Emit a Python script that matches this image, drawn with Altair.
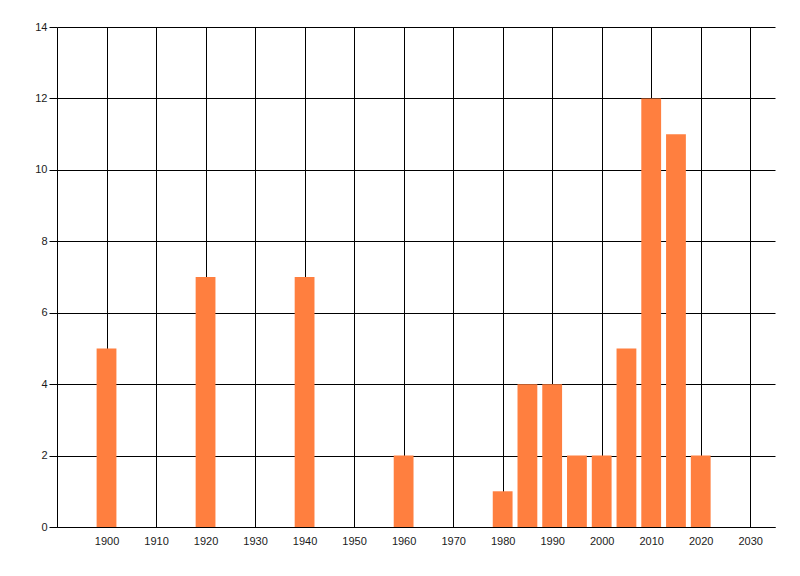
import altair as alt
import pandas as pd

years = [1900, 1920, 1940, 1960, 1980, 1985, 1990, 1995, 2000, 2005, 2010, 2015, 2020]
counts = [5, 7, 7, 2, 1, 4, 4, 2, 2, 5, 12, 11, 2]
x_ticks = list(range(1900, 2031, 10))
y_ticks = list(range(0, 15, 2))

df = pd.DataFrame({"year": years, "count": counts})

chart = (
    alt.Chart(df)
    .transform_calculate(x0="datum.year - 2", x1="datum.year + 2")
    .mark_bar(color="#FF7F3F")
    .encode(
        x=alt.X(
            "x0:Q",
            scale=alt.Scale(domain=[1890, 2035], nice=False, zero=False),
            axis=alt.Axis(
                values=x_ticks,
                format="d",
                title=None,
                ticks=False,
                labelPadding=8,
                grid=True,
                gridColor="#000000",
                gridOpacity=1,
                gridWidth=1,
                domainColor="#000000",
                domainWidth=1,
                labelColor="#1a1a1a",
                labelFont="Liberation Sans",
                labelFontSize=11,
            ),
        ),
        x2="x1:Q",
        y=alt.Y(
            "count:Q",
            scale=alt.Scale(domain=[0, 14], nice=False),
            axis=alt.Axis(
                values=y_ticks,
                title=None,
                tickSize=8,
                tickColor="#000000",
                labelPadding=2,
                grid=True,
                gridColor="#000000",
                gridOpacity=1,
                gridWidth=1,
                domainColor="#000000",
                domainWidth=1,
                labelColor="#1a1a1a",
                labelFont="Liberation Sans",
                labelFontSize=11,
            ),
        ),
        y2=alt.Y2(datum=0),
    )
    .properties(
        width=718,
        height=500,
        autosize=alt.AutoSizeParams(type="none"),
        padding={"left": 49, "top": 19, "right": 10, "bottom": 40},
    )
    .configure_view(stroke=None)
    .configure_axis(gridCap="butt")
)

chart.save("out.html", embed_options={"renderer": "svg", "actions": False})
